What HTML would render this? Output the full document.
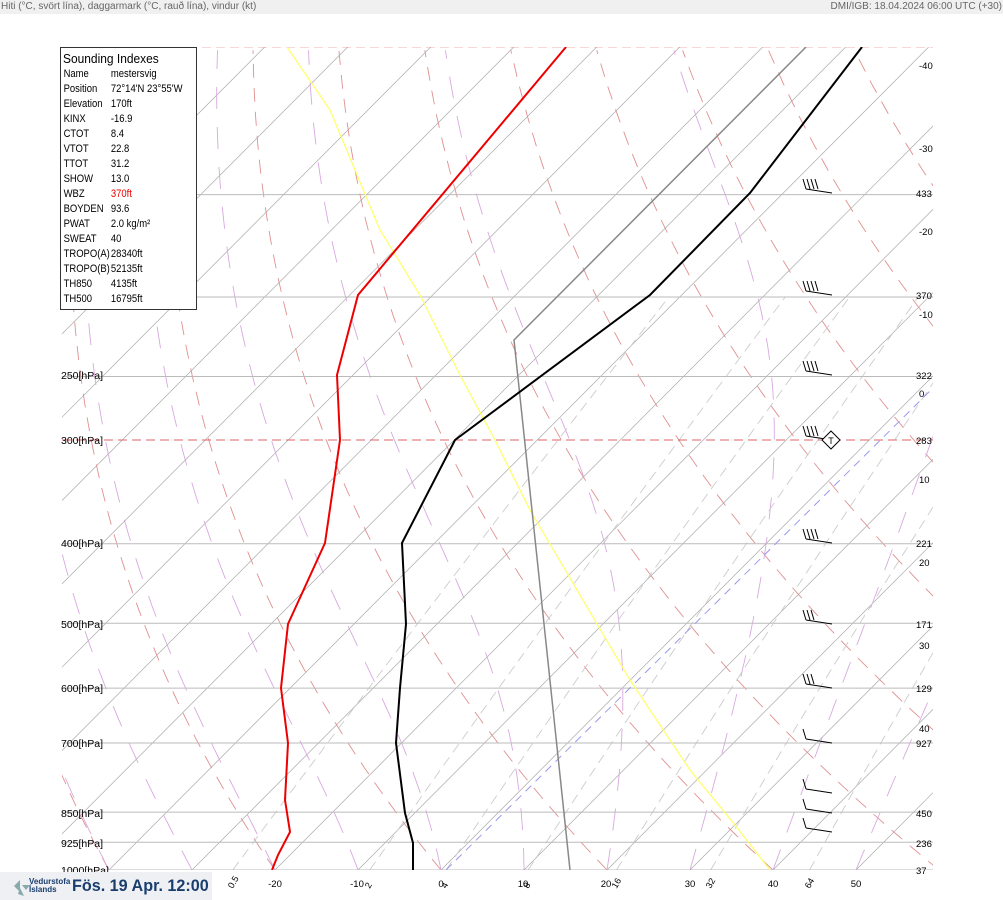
<!DOCTYPE html>
<html><head><meta charset="utf-8"><style>
body{margin:0;width:1003px;height:900px;overflow:hidden;background:#fff;font-family:"Liberation Sans",sans-serif}
#hdr{position:absolute;left:0;top:0;width:1003px;height:14px;background:#f0f0f0;font-size:10px;color:#666;line-height:13px}
#box{position:absolute;left:60px;top:47px;width:135px;height:261px;border:1px solid #333;background:#fff;font-size:11px;color:#000}
#box .t{font-size:13px;margin:3px 0 1px 2px;transform:scaleX(.92);transform-origin:left;white-space:nowrap}
#box .r{height:15px;line-height:15px;padding-left:3px;transform:scaleX(.86);transform-origin:left;white-space:nowrap}
#box .r span{display:inline-block;width:55px}
#logo{position:absolute;left:0;top:872px;width:212px;height:28px;background:#eef0f3;white-space:nowrap}
</style></head><body>
<div id="hdr"><span style="position:absolute;left:1px">Hiti (°C, svört lína), daggarmark (°C, rauð lína), vindur (kt)</span><span style="position:absolute;right:1px">DMI/IGB: 18.04.2024 06:00 UTC (+30)</span></div>
<svg id="s" width="1003" height="900" style="position:absolute;left:0;top:0"></svg>
<div id="box"><div class="t">Sounding Indexes</div>
<div class="r"><span>Name</span>mestersvig</div>
<div class="r"><span>Position</span>72°14'N 23°55'W</div>
<div class="r"><span>Elevation</span>170ft</div>
<div class="r"><span>KINX</span>-16.9</div>
<div class="r"><span>CTOT</span>8.4</div>
<div class="r"><span>VTOT</span>22.8</div>
<div class="r"><span>TTOT</span>31.2</div>
<div class="r"><span>SHOW</span>13.0</div>
<div class="r"><span>WBZ</span><b style="color:#e00;font-weight:normal">370ft</b></div>
<div class="r"><span>BOYDEN</span>93.6</div>
<div class="r"><span>PWAT</span>2.0 kg/m²</div>
<div class="r"><span>SWEAT</span>40</div>
<div class="r"><span>TROPO(A)</span>28340ft</div>
<div class="r"><span>TROPO(B)</span>52135ft</div>
<div class="r"><span>TH850</span>4135ft</div>
<div class="r"><span>TH500</span>16795ft</div>
</div>
<div id="logo"><svg width="30" height="28" style="position:absolute;left:6px;top:0"><path d="M8 14 L14 8 L14 20 Z M16 13 L24 13 L20 18Z M14 16 L18 24 L12 22Z" fill="#8aa"/></svg>
<div style="position:absolute;left:29px;top:6px;font-size:8px;line-height:8px;color:#1a3d6e;font-weight:bold">Vedurstofa<br>Íslands</div>
<div style="position:absolute;left:72px;top:4px;font-size:17px;font-weight:bold;color:#1a3d6e;transform:scaleX(.95);transform-origin:left">Fös. 19 Apr. 12:00</div></div>
<script>
var S=document.getElementById('s'),h='',lab='';
function Y(p){return 870-356*Math.log(1000/p)}
function X(T,p){return 441+8.3*T+(870-Y(p))}
h+='<defs><clipPath id="c"><rect x="62" y="47" width="871" height="823"/></clipPath></defs><g clip-path="url(#c)">';
function pl(pts,st){return '<polyline fill="none" points="'+pts.map(function(a){return a[0].toFixed(1)+','+a[1].toFixed(1)}).join(' ')+'" '+st+'/>'}
var ps=[];for(var p=1000;p>=99;p-=10)ps.push(p);
for(var T=-120;T<=50;T+=10)h+=pl([[X(T,1000),870],[X(T,100),47]],'stroke="#aaa" stroke-width="0.7"');
for(var th=-40;th<=200;th+=20){var a=[];ps.forEach(function(p){var T=(th+273.15)*Math.pow(p/1000,.286)-273.15;a.push([X(T,p),Y(p)])});h+=pl(a,'stroke="#e09090" stroke-width="0.9" stroke-dasharray="14,10"')}
function es(T){return 6.112*Math.exp(17.67*T/(T+243.5))}
for(var t0=-40;t0<=50;t0+=10){var T=t0,a=[];for(var p=1000;p>=100;p-=5){a.push([X(T,p),Y(p)]);var Tk=T+273.15,rs=.622*es(T)/(p-es(T));var g=(0.2857*Tk+2.5e6*rs/1004)/(p*(1+2.5e6*2.5e6*rs*.622/(1004*287*Tk*Tk)));T-=g*5;}
h+=pl(a,'stroke="#d8a8e0" stroke-width="0.9" stroke-dasharray="22,18"')}
[0.5,2,4,8,16,32,64].forEach(function(w){var a=[];for(var p=1000;p>=200;p-=10){var e=w*p/(622+w),l=Math.log(e/6.112),T=243.5*l/(17.67-l);a.push([X(T,p),Y(p)])}h+=pl(a,'stroke="#ccc" stroke-width="0.9" stroke-dasharray="10,6"');var x0=a[0][0];lab+='<text x="'+(x0)+'" y="889" font-size="9" transform="rotate(-60 '+(x0)+' 889)">'+w+'</text>'});
[1000,925,850,700,600,500,400,250,200,150].forEach(function(q){h+='<line x1="62" x2="933" y1="'+Y(q)+'" y2="'+Y(q)+'" stroke="#bbb" stroke-width="1"/>'});
h+='<line x1="62" x2="933" y1="440" y2="440" stroke="#d66" stroke-dasharray="9,5"/><line x1="62" x2="933" y1="47" y2="47" stroke="#d66" stroke-dasharray="9,5" stroke-width="0.6"/>';
h+='<line x1="446" y1="870" x2="933" y2="388" stroke="#99e" stroke-dasharray="8,6"/>';
h+=pl([[287,47],[330,110],[380,230],[420,295],[460,375],[495,440],[530,510],[630,680],[690,770],[735,825],[770,870]],'stroke="#ff6" stroke-width="1.2"');
h+=pl([[575,900],[570,870],[514,340],[806,47]],'stroke="#888" stroke-width="1.5"');
h+=pl([[413,870],[413,843],[405,813],[396,743],[400,688],[406,624],[402,543],[455,440],[650,295],[750,193],[862,47]],'stroke="#000" stroke-width="2"');
h+=pl([[272,870],[278,855],[290,832],[285,800],[288,743],[281,688],[288,624],[325,543],[340,440],[337,375],[358,295],[566,47]],'stroke="#e00" stroke-width="2"');
h+='</g>'+lab;
[[250,375],[300,440],[400,543],[500,624],[600,688],[700,743],[850,813],[925,843],[1000,870]].forEach(function(q){h+='<text x="61" y="'+(q[1]+4)+'" font-size="10.5">'+q[0]+'[hPa]</text>'});
[[-20,275],[-10,357],[0,441],[10,523],[20,606],[30,690],[40,773],[50,856]].forEach(function(q){h+='<text x="'+q[1]+'" y="887" font-size="9.5" text-anchor="middle">'+q[0]+'</text>'});
[['-40',65],['-30',148],['-20',231],['-10',314],['0',393],['10',479],['20',562],['30',645],['40',728]].forEach(function(q){h+='<text x="919" y="'+(q[1]+4)+'" font-size="9.5">'+q[0]+'</text>'});
[['433',193],['370',295],['322',375],['283',440],['221',543],['171',624],['129',688],['927',743],['450',813],['236',843],['37',870]].forEach(function(q){h+='<text x="916" y="'+(q[1]+4)+'" font-size="9.5">'+q[0]+'</text>'});
[[193,4],[295,4],[375,4],[440,4],[543,4],[624,3],[688,3],[743,1],[793,1],[813,1],[832,1]].forEach(function(q){var y=q[0],s='<line x1="832" y1="'+y+'" x2="806" y2="'+(y-4)+'" stroke="#000"/>';for(var i=0;i<q[1];i++){var x=806+i*4;s+='<line x1="'+x+'" y1="'+(y-4)+'" x2="'+(x-3)+'" y2="'+(y-14)+'" stroke="#000"/>'}h+=s});
h+='<line x1="831" y1="440" x2="840" y2="440" stroke="#000"/><path d="M831 431 L840 440 L831 449 L822 440Z" fill="#fff" stroke="#000"/><text x="831" y="444" font-size="9" text-anchor="middle">T</text>';
S.innerHTML=h;
</script>
</body></html>
